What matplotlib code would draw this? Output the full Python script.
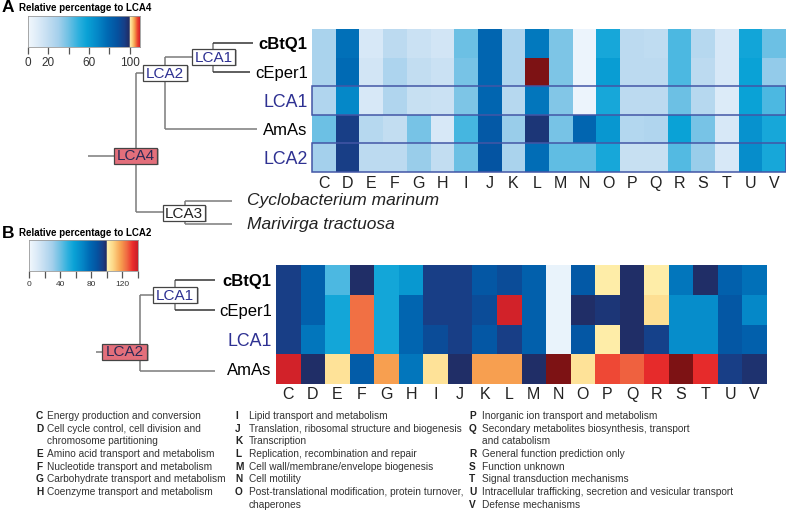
import numpy as np
import matplotlib
matplotlib.use('Agg')
import matplotlib.pyplot as plt
from matplotlib.colors import ListedColormap, Normalize, to_rgb
from matplotlib.patches import Rectangle

plt.rcParams['font.family'] = ['Liberation Sans', 'DejaVu Sans']

W, H = 786, 511

# ---------------- data ----------------
categories = list("CDEFGHIJKLMNOPQRSTUV")

rows_a = ["cBtQ1", "cEper1", "LCA1", "AmAs", "LCA2"]
a_cBtQ1 = [28, 76, 12, 22, 17, 14, 40, 80, 27, 73, 37, 3, 55, 22, 21, 45, 24, 12, 56, 40]
a_cEper1 = [28, 78, 14, 27, 20, 17, 38, 80, 27, 130, 37, 3, 60, 22, 22, 45, 22, 12, 58, 33]
a_LCA1 = [26, 68, 12, 26, 18, 17, 37, 80, 24, 74, 36, 3, 55, 22, 22, 40, 24, 10, 58, 45]
a_AmAs = [40, 95, 24, 20, 38, 12, 46, 85, 32, 97, 38, 80, 62, 25, 26, 58, 38, 12, 64, 55]
a_LCA2 = [30, 95, 22, 22, 32, 20, 40, 87, 28, 77, 42, 42, 55, 18, 18, 44, 32, 12, 66, 55]

rows_b = ["cBtQ1", "cEper1", "LCA1", "AmAs"]
b_cBtQ1 = [95, 82, 45, 99, 56, 62, 95, 95, 86, 90, 82, 4, 85, 102, 99, 102, 74, 99, 82, 76]
b_cEper1 = [95, 82, 56, 125, 56, 80, 95, 95, 90, 138, 82, 4, 99, 97, 99, 106, 66, 66, 86, 68]
b_LCA1 = [95, 74, 56, 125, 56, 80, 90, 95, 86, 95, 82, 4, 86, 102, 99, 94, 66, 66, 86, 82]
b_AmAs = [138, 99, 105, 84, 118, 74, 105, 99, 118, 118, 99, 150, 105, 130, 127, 134, 150, 134, 95, 98]

vmax_a = 110
vmax_b = 140
cbar_a_ticks = [0, 20, 40, 60, 80, 100]
cbar_a_labels = ["0", "20", "", "60", "", "100"]
cbar_b_ticks = [0, 20, 40, 60, 80, 100, 120, 140]
cbar_b_labels = ["0", "", "40", "", "80", "", "120", ""]

cog_letters = list("CDEFGHIJKLMNOPQRSTUV")
cog_desc = [
    "Energy production and conversion",
    "Cell cycle control, cell division and\nchromosome partitioning",
    "Amino acid transport and metabolism",
    "Nucleotide transport and metabolism",
    "Carbohydrate transport and metabolism",
    "Coenzyme transport and metabolism",
    "Lipid transport and metabolism",
    "Translation, ribosomal structure and biogenesis",
    "Transcription",
    "Replication, recombination and repair",
    "Cell wall/membrane/envelope biogenesis",
    "Cell motility",
    "Post-translational modification, protein turnover,\nchaperones",
    "Inorganic ion transport and metabolism",
    "Secondary metabolites biosynthesis, transport\nand catabolism",
    "General function prediction only",
    "Function unknown",
    "Signal transduction mechanisms",
    "Intracellular trafficking, secretion and vesicular transport",
    "Defense mechanisms",
]

# ---------------- colormaps ----------------
blue_anchor_v = [0, 10, 20, 30, 40, 50, 58, 68, 78, 88, 95, 100]
blue_anchor_c = ['#f2f8fd', '#dcebf8', '#c2ddf1', '#a4d0ec', '#6cc0e4', '#2cb0de',
                 '#0aa2d6', '#0588c8', '#006ab4', '#0552a0', '#183e86', '#222a60']
warm_a_v = [100, 102.5, 105, 107.5, 110]
warm_a_c = ['#fff4b4', '#fdd080', '#f39a4c', '#ee4a30', '#d42128']
warm_b_v = [100, 108, 118, 126, 133, 140]
warm_b_c = ['#fff4b4', '#fdd888', '#f7a050', '#f06a42', '#ec2e2c', '#c81e28']


def interp_colors(v, av, ac):
    rgb = np.array([to_rgb(c) for c in ac])
    return np.stack([np.interp(v, av, rgb[:, k]) for k in range(3)], axis=-1)


def make_cmap(vmax, wv, wc):
    v = np.linspace(0, vmax, 1024)
    cols = np.where((v <= 100)[:, None],
                    interp_colors(v, blue_anchor_v, blue_anchor_c),
                    interp_colors(v, wv, wc))
    cm = ListedColormap(cols)
    cm.set_over('#7d1214')
    return cm


cmap_a = make_cmap(vmax_a, warm_a_v, warm_a_c)
cmap_b = make_cmap(vmax_b, warm_b_v, warm_b_c)
norm_a = Normalize(0, vmax_a)
norm_b = Normalize(0, vmax_b)

fig = plt.figure(figsize=(W / 100, H / 100), dpi=100)


def px_axes(x0, y0, x1, y1, **kw):
    return fig.add_axes([x0 / W, 1 - y1 / H, (x1 - x0) / W, (y1 - y0) / H], **kw)


# overlay for tree / text
ov = px_axes(0, 0, W, H)
ov.set_xlim(0, W)
ov.set_ylim(H, 0)
ov.axis('off')

LCA_COL = '#2e3192'
LINE_COL = '#7a7a7a'


def heatmap(box, rows, data, cmap, norm, pad_y, pad_x):
    ax = px_axes(*box)
    arr = np.array(data, dtype=float)
    ax.pcolormesh(arr, cmap=cmap, norm=norm)
    ax.set_xlim(0, len(categories))
    ax.set_ylim(len(rows), 0)
    ax.set_xticks(np.arange(len(categories)) + 0.5)
    ax.set_xticklabels(categories, fontsize=11.5, color='#222222')
    ax.set_yticks(np.arange(len(rows)) + 0.5)
    ax.set_yticklabels(rows, fontsize=12)
    ax.tick_params(length=0, axis='y', pad=pad_y)
    ax.tick_params(length=0, axis='x', pad=pad_x)
    for s in ax.spines.values():
        s.set_visible(False)
    for lab in ax.get_yticklabels():
        t = lab.get_text()
        if t == 'cBtQ1':
            lab.set_fontweight('bold')
        if t.startswith('LCA'):
            lab.set_color(LCA_COL)
            lab.set_fontsize(12.8)
    return ax


axA = heatmap((312, 29, 786, 172), rows_a, [a_cBtQ1, a_cEper1, a_LCA1, a_AmAs, a_LCA2],
              cmap_a, norm_a, 3, 3)
for r in (2, 4):
    axA.add_patch(Rectangle((0.02, r), len(categories) - 0.04, 1, fill=False,
                            edgecolor='#4356a6', lw=1.1, clip_on=False))

axB = heatmap((276, 265, 767, 384), rows_b, [b_cBtQ1, b_cEper1, b_LCA1, b_AmAs],
              cmap_b, norm_b, 3, 2.5)


def colorbar(box, vmax, cmap, norm, ticks, labels, fs):
    ax = px_axes(*box)
    g = np.linspace(0, vmax, 600)[None, :]
    ax.imshow(g, aspect='auto', cmap=cmap, norm=norm, extent=[0, vmax, 0, 1])
    ax.set_xlim(0, vmax)
    ax.set_yticks([])
    ax.set_xticks(ticks)
    ax.set_xticklabels(labels, fontsize=fs, color='#333333')
    ax.tick_params(axis='x', direction='out', length=5, width=0.9, color='#555555', pad=2)
    for s in ax.spines.values():
        s.set_color('#999999')
        s.set_linewidth(0.6)
    return ax


colorbar((28, 16, 140, 47), vmax_a, cmap_a, norm_a, cbar_a_ticks, cbar_a_labels, 8.5)
colorbar((29, 240, 138, 271), vmax_b, cmap_b, norm_b, cbar_b_ticks, cbar_b_labels, 6)

# panel titles
ov.text(2, 8, "A", fontsize=12.5, fontweight='bold', va='center', ha='left')
ov.text(19, 8, "Relative percentage to LCA4", fontsize=7, fontweight='bold', va='center')
ov.text(2, 233, "B", fontsize=12.5, fontweight='bold', va='center', ha='left')
ov.text(19, 233, "Relative percentage to LCA2", fontsize=7, fontweight='bold', va='center')


def line(xs, ys, col=LINE_COL, lw=1.1):
    ov.plot(xs, ys, color=col, lw=lw, solid_capstyle='butt', zorder=1)


def node(x0, y0, x1, y1, label, face='white', tcol=LCA_COL):
    ov.add_patch(Rectangle((x0 + 1.5, y0 + 1.5), x1 - x0, y1 - y0, facecolor='#bbbbbb',
                           edgecolor='none', zorder=2))
    ov.add_patch(Rectangle((x0, y0), x1 - x0, y1 - y0, facecolor=face,
                           edgecolor='#444444', lw=0.9, zorder=3))
    ov.text((x0 + x1) / 2, (y0 + y1) / 2 + 0.5, label, fontsize=11, color=tcol,
            ha='center', va='center', zorder=4)


# tree A (row centers)
ra = [29 + (i + 0.5) * (172 - 29) / 5 for i in range(5)]
line([213, 213], [ra[0], ra[1]])
line([213, 253], [ra[0], ra[0]], col='#333333')
line([213, 250], [ra[1], ra[1]], col='#333333')
line([165, 165], [57, ra[3]])
line([165, 192], [57, 57])
line([165, 257], [ra[3], ra[3]])
line([136, 136], [73, 212])
line([136, 143], [73, 73])
line([88, 114], [156, 156])
line([136, 163], [212, 212])
line([185, 185], [201, 224])
line([185, 232], [201, 201])
line([185, 232], [224, 224])
node(192, 49, 235, 65, "LCA1")
node(143, 65, 187, 81, "LCA2")
node(114, 148, 157, 164, "LCA4", face='#e36f7b', tcol='#2a2a55')
node(163, 205, 205, 221, "LCA3", tcol='#222222')
ov.text(247, 201, "Cyclobacterium marinum", fontsize=12.5, style='italic', va='center', color='#222222')
ov.text(247, 224, "Marivirga tractuosa", fontsize=12.5, style='italic', va='center', color='#222222')

# tree B
rb = [265 + (i + 0.5) * (384 - 265) / 4 for i in range(4)]
line([175, 175], [rb[0], rb[1]])
line([175, 215], [rb[0], rb[0]], col='#333333')
line([175, 215], [rb[1], rb[1]], col='#333333')
line([140, 140], [295, rb[3] + 2])
line([140, 153], [295, 295])
line([140, 215], [rb[3] + 2, rb[3] + 2])
line([96, 102], [352, 352])
node(153, 287, 197, 303, "LCA1")
node(102, 344, 147, 360, "LCA2", face='#e36f7b', tcol='#2a2a55')

# COG legend
col_letter_x = [36, 235, 469]
col_text_x = [47, 249, 482]
groups = [cog_letters[0:6], cog_letters[6:13], cog_letters[13:20]]
descs = [cog_desc[0:6], cog_desc[6:13], cog_desc[13:20]]
y0, dy = 416, 12.7
for gi in range(3):
    li = 0
    for L, d in zip(groups[gi], descs[gi]):
        ov.text(col_letter_x[gi], y0 + li * dy, L, fontsize=7.3, fontweight='bold',
                va='center', color='#222222')
        for part in d.split('\n'):
            ov.text(col_text_x[gi], y0 + li * dy, part, fontsize=7.25, va='center',
                    color='#333333')
            li += 1

fig.savefig('out.png', dpi=100)
